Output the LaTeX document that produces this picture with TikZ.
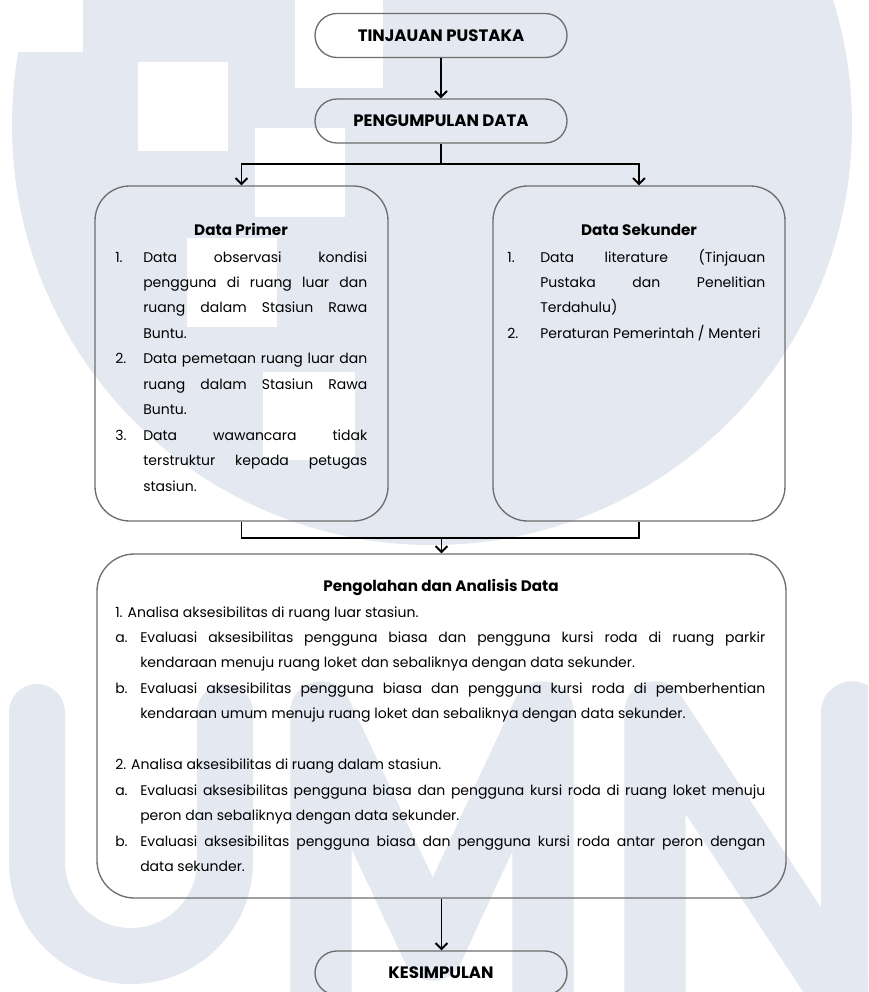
\documentclass[tikz,border=0pt]{standalone}
\usepackage{fontspec}
\setmainfont{Poppins}
\usetikzlibrary{arrows.meta,shapes.misc}
\definecolor{wm}{HTML}{E4E8F0}
\definecolor{bd}{HTML}{6E6E6E}
\newcommand\hitem[3]{\hangindent=#1\relax\hangafter=1\relax\noindent\makebox[#1][l]{#2}#3\par}
\tikzset{
 pill/.style={rounded rectangle, draw=bd, line width=1pt, minimum width=189pt, minimum height=33pt, inner sep=0pt, font=\fontsize{12.4pt}{14pt}\selectfont\bfseries},
 panel/.style={draw=bd, line width=1pt, rounded corners=26pt, inner sep=0pt},
 conn/.style={line width=1.4pt, black},
 arr/.style={conn, -{Straight Barb[length=4.5pt,width=9pt,line width=1.4pt]}},
 body/.style={inner sep=0pt, align=justify, font=\fontsize{10.5pt}{19.1pt}\selectfont},
 ttl/.style={inner sep=0pt, font=\fontsize{11.4pt}{13pt}\selectfont\bfseries},
 wmstroke/.style={draw=wm, line cap=round, line join=round},
}
\begin{document}
\begin{tikzpicture}[x=0.75pt,y=-0.75pt]
\useasboundingbox (0,0) rectangle (868,992);
\fill[white] (0,0) rectangle (868,992);
% watermark
\begin{scope}
\clip (0,0) rectangle (868,992);
\fill[wm] (432,125) circle[radius=315pt];
\fill[white] (0,0) rectangle (83,52);
\fill[white] (138,62) rectangle (228,151);
\fill[white] (295,0) rectangle (383,88);
\fill[white] (255,128) rectangle (345,217);
\fill[white] (187,238) rectangle (277,327);
\fill[white] (263,372) rectangle (355,460);
\draw[wmstroke, line width=42pt] (37,712) -- (37,862) arc[start angle=180,end angle=360,radius=70.5pt] -- (225,712);
\draw[wmstroke, line width=46pt] (321,1060) -- (321,712) -- (433,950) -- (543,712) -- (543,1060);
\draw[wmstroke, line width=46pt] (655,1060) -- (655,712) -- (852,1010);
\draw[wmstroke, line width=46pt] (852,1060) -- (852,712);
\end{scope}
% boxes
\node[pill] (tin) at (441,35.5) {TINJAUAN PUSTAKA};
\node[pill] (peng) at (441,121) {PENGUMPULAN DATA};
\node[panel, minimum width=219.75pt, minimum height=251.25pt] (primer) at (241.5,353.5) {};
\node[panel, minimum width=219pt, minimum height=251.25pt] (sekunder) at (639,353.5) {};
\node[panel, rounded corners=28pt, minimum width=516.75pt, minimum height=258pt] (olah) at (441.5,726) {};
\node[pill] (kes) at (441,973) {KESIMPULAN};
% titles
\node[ttl, anchor=base] (tprim) at (241,235) {Data Primer};
\node[ttl, anchor=base] (tsek) at (639,235) {Data Sekunder};
\node[ttl, anchor=base] (tolah) at (441,591) {Pengolahan dan Analisis Data};
% lists
\node[body, text width=189pt, anchor=base west] (lprim) at (115,262) {%
\hitem{21pt}{1.}{Data observasi kondisi\linebreak pengguna di ruang luar dan\linebreak ruang dalam Stasiun Rawa\linebreak Buntu.}%
\hitem{21pt}{2.}{Data pemetaan ruang luar dan\linebreak ruang dalam Stasiun Rawa\linebreak Buntu.}%
\hitem{21pt}{3.}{Data wawancara tidak\linebreak terstruktur kepada petugas\linebreak stasiun.}};
\node[body, text width=193.5pt, anchor=base west] (lsek) at (507,262) {%
\hitem{24.75pt}{1.}{Data literature (Tinjauan\linebreak Pustaka dan Penelitian\linebreak Terdahulu)}%
\hitem{24.75pt}{2.}{Peraturan Pemerintah / Menteri}};
\node[body, text width=487.5pt, anchor=base west] (lolah) at (115,617) {%
\noindent 1. Analisa aksesibilitas di ruang luar stasiun.\par
\hitem{18.75pt}{a.}{Evaluasi aksesibilitas pengguna biasa dan pengguna kursi roda di ruang parkir\linebreak kendaraan menuju ruang loket dan sebaliknya dengan data sekunder.}%
\hitem{18.75pt}{b.}{Evaluasi aksesibilitas pengguna biasa dan pengguna kursi roda di pemberhentian\linebreak kendaraan umum menuju ruang loket dan sebaliknya dengan data sekunder.}%
\vspace{19.1pt}%
\noindent 2. Analisa aksesibilitas di ruang dalam stasiun.\par
\hitem{18.75pt}{a.}{Evaluasi aksesibilitas pengguna biasa dan pengguna kursi roda di ruang loket menuju\linebreak peron dan sebaliknya dengan data sekunder.}%
\hitem{18.75pt}{b.}{Evaluasi aksesibilitas pengguna biasa dan pengguna kursi roda antar peron dengan\linebreak data sekunder.}};
% connectors
\draw[arr] (tin) -- (peng);
\coordinate (j1) at (441,164);
\draw[conn] (peng.south) -- (j1);
\draw[arr] (j1) -| (primer.north);
\draw[arr] (j1) -| (sekunder.north);
\coordinate (j2) at (441.5,538);
\draw[conn] (primer.south) |- (j2);
\draw[conn] (sekunder.south) |- (j2);
\draw[arr] (j2) -- (olah.north);
\draw[arr] (olah.south) -- (olah.south |- kes.north);
\end{tikzpicture}
\end{document}
